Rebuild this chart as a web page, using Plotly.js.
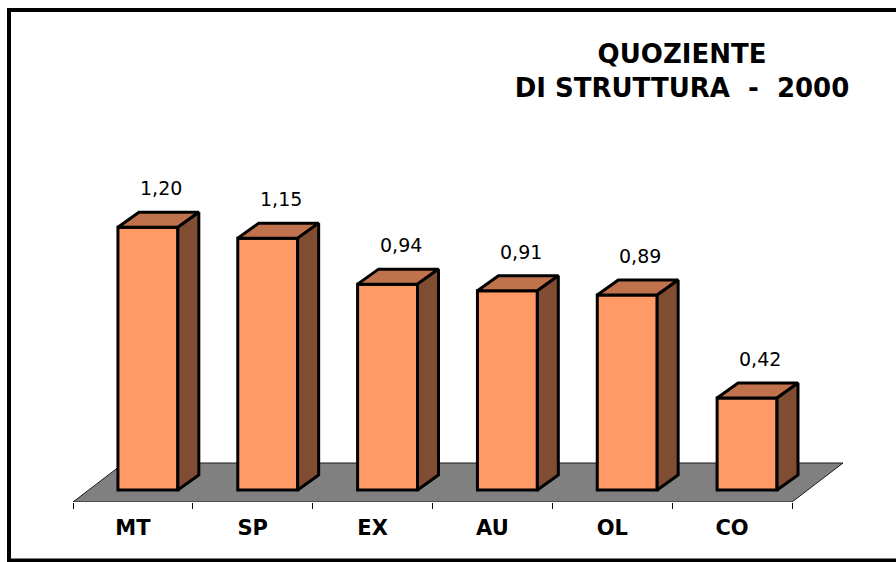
<!DOCTYPE html>
<html>
<head>
<meta charset="utf-8">
<script src="https://cdn.plot.ly/plotly-3.0.1.min.js"></script>
<style>
  html, body { margin: 0; padding: 0; background: #ffffff; }
  #chart { width: 896px; height: 562px; }
</style>
</head>
<body>
<div id="chart"></div>
<script>
// ---- data ----
const categories = ["MT", "SP", "EX", "AU", "OL", "CO"];
const values = [1.20, 1.15, 0.94, 0.91, 0.89, 0.42];
const valueLabels = ["1,20", "1,15", "0,94", "0,91", "0,89", "0,42"];
const chartTitle = "QUOZIENTE<br>DI STRUTTURA&nbsp;&nbsp;-&nbsp;&nbsp;2000";

// ---- geometry (3D look) ----
const xs = categories.map((c, i) => i);
const barOffset = -0.125, barWidth = 0.5;   // front face of each bar
const dx = 0.175, dy = 0.0685;              // bar depth projection
const floorDx = 0.4256, floorDy = 0.178;    // floor depth projection
const yMin = -0.0548, yMax = -0.0548 + 472 / 219;
const xMin = -0.5, xMax = 5.5 + floorDx;

// top and side faces built from the values
const topX = [], topY = [], sideX = [], sideY = [];
xs.forEach((x, i) => {
  const v = values[i];
  const x0 = x + barOffset, x1 = x0 + barWidth;
  topX.push(x0, x1, x1 + dx, x0 + dx, x0, null);
  topY.push(v, v, v + dy, v + dy, v, null);
  sideX.push(x1, x1 + dx, x1 + dx, x1, x1, null);
  sideY.push(0, dy, v + dy, v, 0, null);
});

const traces = [
  {
    type: "bar", x: xs, y: values, width: barWidth, offset: barOffset,
    marker: { color: "#FF9966", line: { color: "#000000", width: 3 } },
    hoverinfo: "skip", showlegend: false
  },
  {
    type: "scatter", mode: "lines", x: topX, y: topY, fill: "toself",
    fillcolor: "#C0724C", line: { color: "#000000", width: 3 },
    hoverinfo: "skip", showlegend: false
  },
  {
    type: "scatter", mode: "lines", x: sideX, y: sideY, fill: "toself",
    fillcolor: "#804D33", line: { color: "#000000", width: 3 },
    hoverinfo: "skip", showlegend: false
  },
  // invisible trace to activate the boundary-tick axis
  {
    type: "scatter", mode: "markers", x: [xMin], y: [yMin], xaxis: "x2",
    marker: { opacity: 0 }, hoverinfo: "skip", showlegend: false
  }
];

const floorPath = "M " + (-0.5) + "," + yMin +
  " L " + 5.5 + "," + yMin +
  " L " + (5.5 + floorDx) + "," + (yMin + floorDy) +
  " L " + (-0.5 + floorDx) + "," + (yMin + floorDy) + " Z";

const annotations = xs.map((x, i) => ({
  x: x + barOffset + barWidth / 2 + 0.11,
  y: values[i] + dy,
  xref: "x", yref: "y",
  text: valueLabels[i], showarrow: false,
  yanchor: "middle", yshift: 24,
  font: { family: "DejaVu Sans", size: 19, color: "#000000" }
}));

const layout = {
  width: 896, height: 562,
  margin: { l: 73, r: 53, t: 30, b: 60 },
  paper_bgcolor: "#ffffff", plot_bgcolor: "rgba(0,0,0,0)",
  showlegend: false,
  title: {
    text: chartTitle,
    x: 682 / 896, xanchor: "center", xref: "container",
    y: 1 - 63 / 562, yanchor: "top", yref: "container",
    font: { family: "DejaVu Sans", size: 26, color: "#000000", weight: "bold" }
  },
  xaxis: {
    range: [xMin, xMax], showgrid: false, zeroline: false, showline: false,
    tickvals: xs, ticktext: categories, ticks: "",
    ticklabelstandoff: 11,
    tickfont: { family: "DejaVu Sans", size: 21, color: "#000000", weight: "bold" },
    fixedrange: true
  },
  xaxis2: {
    overlaying: "x", side: "bottom", matches: "x", range: [xMin, xMax],
    showgrid: false, zeroline: false, showline: false,
    tickvals: [-0.5, 0.5, 1.5, 2.5, 3.5, 4.5, 5.5],
    ticks: "outside", ticklen: 6, tickwidth: 1, tickcolor: "#000000",
    showticklabels: false, fixedrange: true
  },
  yaxis: {
    range: [yMin, yMax], visible: false, showgrid: false, zeroline: false,
    fixedrange: true
  },
  shapes: [
    {
      type: "path", path: floorPath, xref: "x", yref: "y", layer: "below",
      fillcolor: "#808080", line: { color: "#1a1a1a", width: 1 }
    },
    {
      type: "rect", xref: "paper", yref: "paper",
      x0: (9 - 73) / 770, x1: (905 - 73) / 770,
      y0: -(560.5 - 502) / 472, y1: 1 + (30 - 10) / 472,
      line: { color: "#000000", width: 4 }, fillcolor: "rgba(0,0,0,0)"
    }
  ],
  annotations: annotations
};

Plotly.newPlot("chart", traces, layout, { displayModeBar: false, staticPlot: true });
</script>
</body>
</html>
